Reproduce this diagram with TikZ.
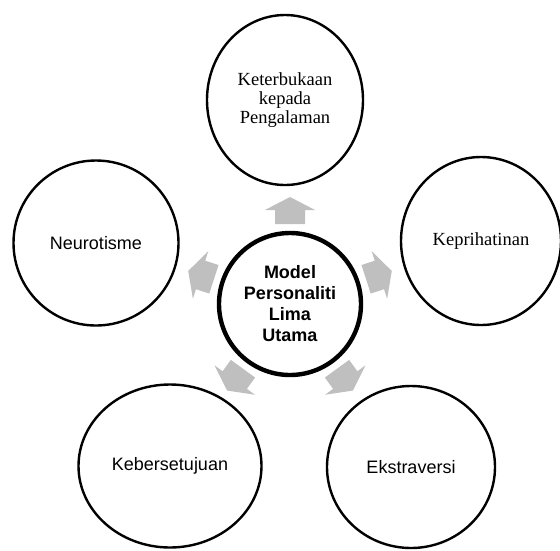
\documentclass[tikz,border=0pt]{standalone}
\usepackage{fontspec}
\setmainfont{Liberation Serif}
\setsansfont{Liberation Sans}
\usetikzlibrary{shapes.geometric}
\definecolor{arrowgray}{RGB}{191,191,191}
\tikzset{
  outer/.style={draw=black, line width=2.4pt, ellipse, inner sep=0pt, align=center},
  inner/.style={draw=black, line width=4.4pt, circle, inner sep=0pt, minimum size=142pt, align=center,
    font=\sffamily\bfseries\fontsize{18}{21}\selectfont},
  serifl/.style={font=\rmfamily\fontsize{18.5}{19}\selectfont},
  sansl/.style={font=\sffamily\fontsize{18}{21}\selectfont},
  blockarrow/.style={fill=arrowgray, draw=none}
}
\begin{document}
\begin{tikzpicture}[x=1pt, y=-1pt]
\useasboundingbox (0,0) rectangle (560,550);
\node[inner] (c) at (290,304) {Model\\Personaliti\\Lima\\Utama};
\node[outer, serifl, minimum width=156pt, minimum height=170pt] (o) at (285,100) {Keterbukaan\\kepada\\Pengalaman};
\node[outer, serifl, minimum width=160pt, minimum height=168pt] (k) at (481,241) {Keprihatinan};
\node[outer, sansl, minimum width=165pt, minimum height=165pt] (n) at (96,243) {Neurotisme};
\node[outer, sansl, minimum width=183pt, minimum height=163pt] (a) at (170,466) {Kebersetujuan};
\node[outer, sansl, minimum width=168pt, minimum height=162pt] (e) at (411,467) {Ekstraversi};
\foreach \ang in {90,18,162,234,306}{
  \begin{scope}[shift={(c.center)}, rotate=\ang]
    \fill[blockarrow] (80,-15) -- (94,-15) -- (94,-25) -- (107,0) -- (94,25) -- (94,15) -- (80,15) -- cycle;
  \end{scope}
}
\end{tikzpicture}
\end{document}
